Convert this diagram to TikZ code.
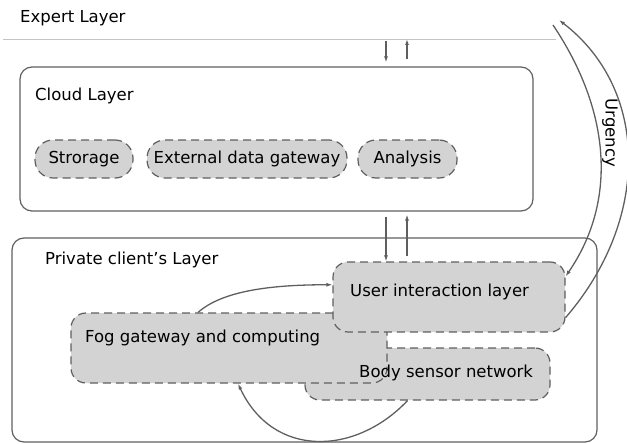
\documentclass[tikz,border=0pt]{standalone}
\usepackage{fontspec}
\setmainfont{DejaVu Sans}
\usetikzlibrary{arrows.meta}
\definecolor{edgegray}{HTML}{5F5F5F}
\definecolor{boxgray}{HTML}{D3D3D3}
\definecolor{rulegray}{HTML}{C4C4C4}

\begin{document}
\begin{tikzpicture}[x=1pt,y=-1pt,
  every node/.style={font=\fontsize{16.5}{19}\selectfont, inner sep=0pt},
  layerbox/.style={draw=edgegray, line width=1.2pt, rounded corners=12pt},
  partbox/.style={draw=edgegray, fill=boxgray, line width=1.2pt, dash pattern=on 8pt off 5pt, rounded corners=15pt},
  pill/.style={partbox, rounded corners=18pt, minimum height=38pt},
  flow/.style={draw=edgegray, line width=1.3pt, -{Latex[length=6pt,width=4pt]}},
  title/.style={anchor=west}]
  \useasboundingbox (0,0) rectangle (627,444);
  % expert layer
  \node[title] (expert) at (20,18) {Expert Layer};
  \coordinate (ruleL) at (3,39);
  \coordinate (ruleR) at (556,39);
  \draw[rulegray, line width=0.8pt] (ruleL) -- (ruleR);
  % cloud layer
  \node[layerbox, minimum width=513pt, minimum height=144pt] (cloud) at (276.5,139) {};
  \node[title] (cloudtitle) at (35,96) {Cloud Layer};
  \node[pill, minimum width=98pt] (storage) at (84,159) {Strorage};
  \node[pill, minimum width=200pt] (gateway) at (247,159) {External data gateway};
  \node[pill, minimum width=99pt] (analysis) at (407.5,159) {Analysis};
  % private client layer
  \node[layerbox, minimum width=585pt, minimum height=204pt] (private) at (304.5,340) {};
  \node[title] (privatetitle) at (45,260) {Private client’s Layer};
  \node[partbox, minimum width=245pt, minimum height=52pt] (bsn) at (427.5,374) {};
  \node[partbox, minimum width=316pt, minimum height=70pt] (fog) at (229,348) {};
  \node[title] (fogtext) at (85,338) {Fog gateway and computing};
  \node[title] (bsntext) at (359,373) {Body sensor network};
  \node[partbox, minimum width=232pt, minimum height=70pt] (user) at (449,297) {};
  \node[title] (usertext) at (350,292) {User interaction layer};
  % between layers
  \coordinate (expdown) at (386,41);
  \coordinate (expup) at (407,39);
  \draw[flow, shorten >=4pt] (expdown) -- (expdown |- cloud.north);
  \draw[flow, shorten <=7pt] (expup |- cloud.north) -- (expup);
  \draw[flow, shorten <=5pt] (cloud.south -| expdown) -- (user.north -| expdown);
  \draw[flow, shorten <=5pt, shorten >=3pt] (user.north -| expup) -- (cloud.south -| expup);
  % inside private layer
  \draw[flow] ([xshift=-31pt]fog.north) .. controls +(25,-22) and +(-60,0) .. (user.174);
  \draw[flow] ([xshift=-20pt]bsn.south) .. controls +(-52,55) and +(35,75) .. ([xshift=9pt]fog.south);
  % urgency
  \coordinate (urgstart) at (553,25);
  \coordinate (urgend) at (559,20);
  \draw[flow] (urgstart) .. controls (610,110) and (618,200) .. (user.10);
  \draw[flow] (user.-10) .. controls (650,220) and (650,90) .. (urgend);
  \node[rotate=-90] (urgency) at (610,133) {Urgency};
\end{tikzpicture}
\end{document}
